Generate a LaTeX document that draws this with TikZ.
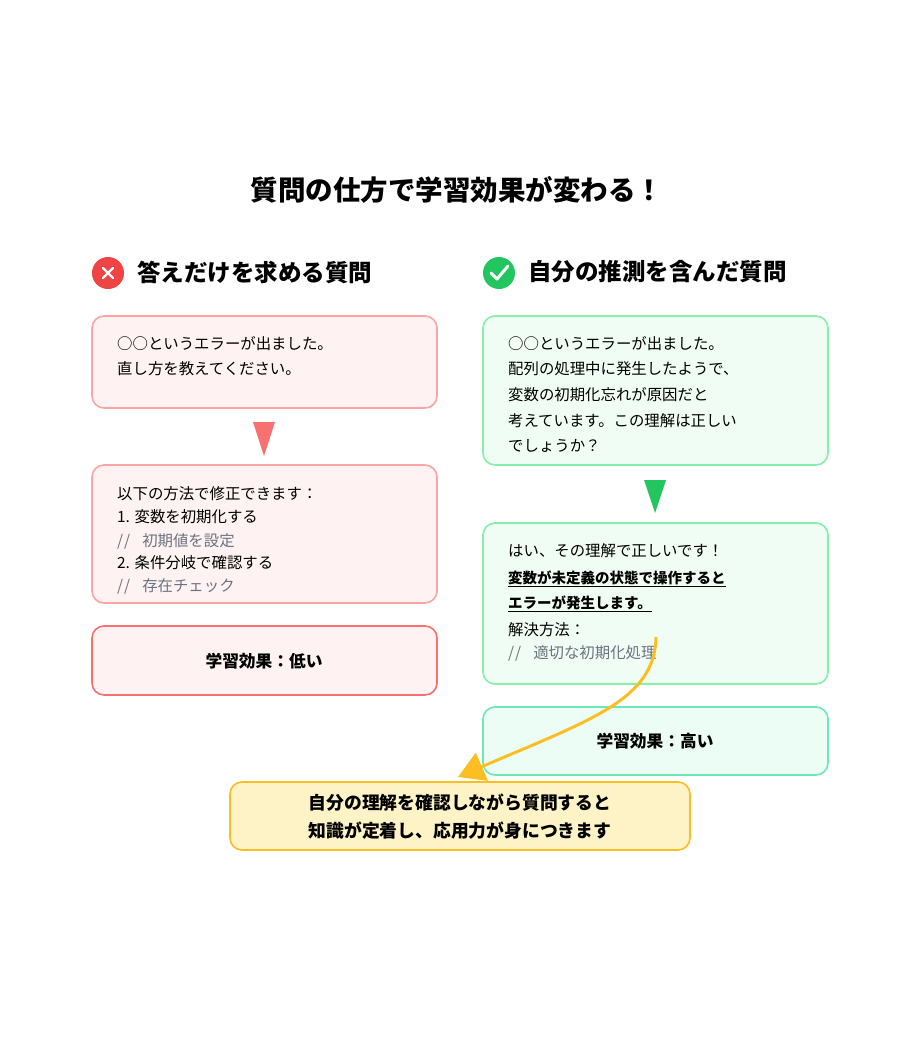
\documentclass[tikz,border=0pt]{standalone}
\usepackage{fontspec}
\setmainfont{Noto Sans CJK JP}
\usetikzlibrary{arrows.meta}
\definecolor{rb}{HTML}{FCA5A5}\definecolor{rf}{HTML}{FEF2F2}\definecolor{rd}{HTML}{F87171}
\definecolor{gb}{HTML}{86EFAC}\definecolor{gf}{HTML}{F0FDF4}\definecolor{gd}{HTML}{6EE7B7}\definecolor{gf2}{HTML}{ECFDF5}
\definecolor{yb}{HTML}{FBBF24}\definecolor{yf}{HTML}{FEF3C7}\definecolor{gr}{HTML}{6B7280}
\definecolor{ic}{HTML}{EF4444}\definecolor{ig}{HTML}{22C55E}
\tikzset{
 box/.style={draw=#1,line width=1.6pt,rounded corners=12pt},
 txt/.style={anchor=west,font=\fontsize{15.4}{18}\selectfont,inner sep=0},
 cmt/.style={txt,text=gr},
 bold/.style={font=\fontsize{16.7}{19}\selectfont\bfseries,inner sep=0},
 head/.style={anchor=west,font=\fontsize{23.5}{27}\selectfont\bfseries,inner sep=0}
}
\begin{document}
\begin{tikzpicture}[x=1pt,y=-1pt]
\useasboundingbox[fill=white] (0,0) rectangle (920,1046);
\node[font=\fontsize{27.5}{30}\selectfont\bfseries] (title) at (457,190) {質問の仕方で学習効果が変わる！};
% headings
\fill[ic] (108,273) circle (16) coordinate (ix);
\draw[white,line width=2.4pt,line cap=round] (103,268)--(113,278) (113,268)--(103,278);
\node[head] (hl) at (137,272) {答えだけを求める質問};
\fill[ig] (499,273) circle (16) coordinate (iy);
\draw[white,line width=3pt,line cap=round,line join=round] (491,273)--(497,279)--(508,266);
\node[head] (hr) at (528,272) {自分の推測を含んだ質問};
% left boxes
\filldraw[box=rb,fill=rf] (92,316) rectangle (437,408);
\node[txt] (l1a) at (117,344) {○○というエラーが出ました。};
\node[txt] (l1b) at (117,369) {直し方を教えてください。};
\fill[rd] (253,422)--(275,422)--(264,456)--cycle;
\filldraw[box=rb,fill=rf] (92,465) rectangle (437,603);
\node[txt] (l2a) at (117,494) {以下の方法で修正できます：};
\node[txt] (l2b) at (117,517) {1. 変数を初期化する};
\node[cmt] (l2c) at (117,541) {/\kern1pt/\hspace{12pt}初期値を設定};
\node[txt] (l2d) at (117,563) {2. 条件分岐で確認する};
\node[cmt] (l2e) at (117,586) {/\kern1pt/\hspace{12pt}存在チェック};
\filldraw[box=rd,fill=rf] (92,626) rectangle (437,695);
\node[bold] (l3) at (264,661) {学習効果：低い};
% right boxes
\filldraw[box=gb,fill=gf] (483,316) rectangle (828,465);
\node[txt] (r1a) at (508,344) {○○というエラーが出ました。};
\node[txt] (r1b) at (508,369) {配列の処理中に発生したようで、};
\node[txt] (r1c) at (508,395) {変数の初期化忘れが原因だと};
\node[txt] (r1d) at (508,421) {考えています。この理解は正しい};
\node[txt] (r1e) at (508,446) {でしょうか？};
\fill[ig] (644,480)--(666,480)--(655,513)--cycle;
\filldraw[box=gb,fill=gf] (483,523) rectangle (828,684);
\node[txt] (r2a) at (508,551) {はい、その理解で正しいです！};
\node[txt,font=\fontsize{14.5}{17}\selectfont\bfseries] (r2b) at (508,579) {\underline{変数が未定義の状態で操作すると}};
\node[txt,font=\fontsize{14.5}{17}\selectfont\bfseries] (r2c) at (508,604) {\underline{エラーが発生します。}};
\node[txt] (r2d) at (508,630) {解決方法：};
\node[cmt] (r2e) at (508,653) {/\kern1pt/\hspace{12pt}適切な初期化処理};
\filldraw[box=gd,fill=gf2] (483,707) rectangle (828,775);
\node[bold] (r3) at (655,741) {学習効果：高い};
% bottom
\filldraw[box=yb,fill=yf] (230,782) rectangle (690,850);
\node[bold,font=\fontsize{17.8}{20}\selectfont\bfseries] (b1) at (460,803) {自分の理解を確認しながら質問すると};
\node[bold,font=\fontsize{17.8}{20}\selectfont\bfseries] (b2) at (460,831) {知識が定着し、応用力が身につきます};
\coordinate (cs) at (656,637);
\coordinate (ce) at (458,777);
\draw[yb,line width=3pt,-{Triangle[length=26pt,width=30pt]}] (cs) .. controls (655,700) and (590,720) .. (ce);
\end{tikzpicture}
\end{document}
